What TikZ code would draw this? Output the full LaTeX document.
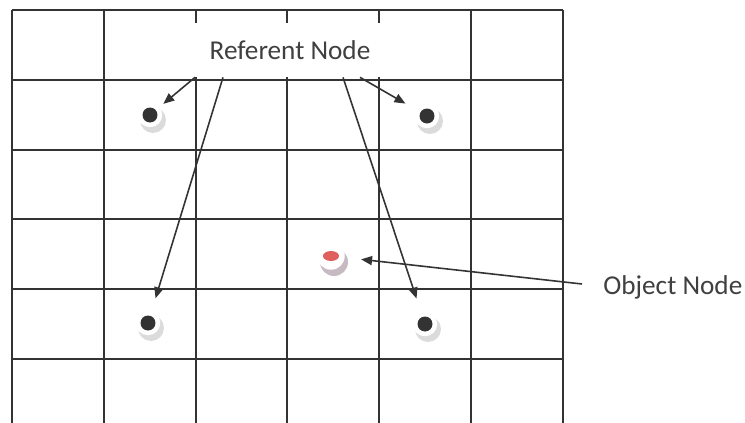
\documentclass[tikz,border=0pt]{standalone}
\usepackage{fontspec}
\setmainfont{Carlito}
\usepackage{xcolor}
\usetikzlibrary{calc,arrows.meta,positioning,shapes.geometric}
\definecolor{objred}{RGB}{222,95,92}
\definecolor{objshade}{RGB}{200,186,194}
\tikzset{
  gridline/.style={draw=black!80, line width=1.1pt},
  tag/.style={fill=white, text=black!75, inner sep=0pt,
    font=\fontsize{15.5}{18}\selectfont},
  refdot/.style={circle, fill=black!80, minimum size=0.3cm, inner sep=0pt},
  objdot/.style={ellipse, fill=objred, minimum width=0.32cm,
    minimum height=0.2cm, inner sep=0pt},
  arr/.style={-{Triangle[length=2.2mm,width=1.8mm]}, line width=0.9pt, draw=black!80}
}

\begin{document}
\begin{tikzpicture}[x=0.02cm, y=-0.02cm]
  \useasboundingbox (0,0) rectangle (745,423);

  % grid
  \foreach \i in {0,...,6}
    \draw[gridline] ({12+91.8*\i},10) -- ({12+91.8*\i},423);
  \foreach \j in {0,...,5}
    \draw[gridline] (12,{10+69.8*\j}) -- (563,{10+69.8*\j});

  \node[tag, minimum width=3.92cm, minimum height=1.08cm] (referent) at (290,50) {Referent Node};
  \node[tag, anchor=west] (object) at (603,287) {Object Node};

  % referent nodes
  \foreach \n/\x/\y in {ref1/150/115, ref2/427/116, ref3/148/323, ref4/425/324} {
    \fill[gray!28] (\x+3,\y+5) circle (0.26cm);
    \fill[white] (\x,\y) circle (0.245cm);
    \node[refdot] (\n) at (\x,\y) {};
  }

  % object node
  \fill[objshade] (334,262) circle (0.28cm);
  \fill[white] (331,256) circle (0.275cm);
  \node[objdot] (obj) at (331,256) {};

  \draw[arr, shorten >=0.19cm] ($(referent.south)+(-95,0)$) -- (ref1);
  \draw[arr, shorten >=0.36cm] ($(referent.south)+(-67,0)$) -- (ref3);
  \draw[arr, shorten >=0.38cm] ($(referent.south)+(53,0)$) -- (ref4);
  \draw[arr, shorten >=0.34cm] ($(referent.south)+(70,0)$) -- (ref2);
  \draw[arr, shorten >=0.44cm] ($(object.west)+(-21,-3)$) -- (obj);
\end{tikzpicture}
\end{document}
